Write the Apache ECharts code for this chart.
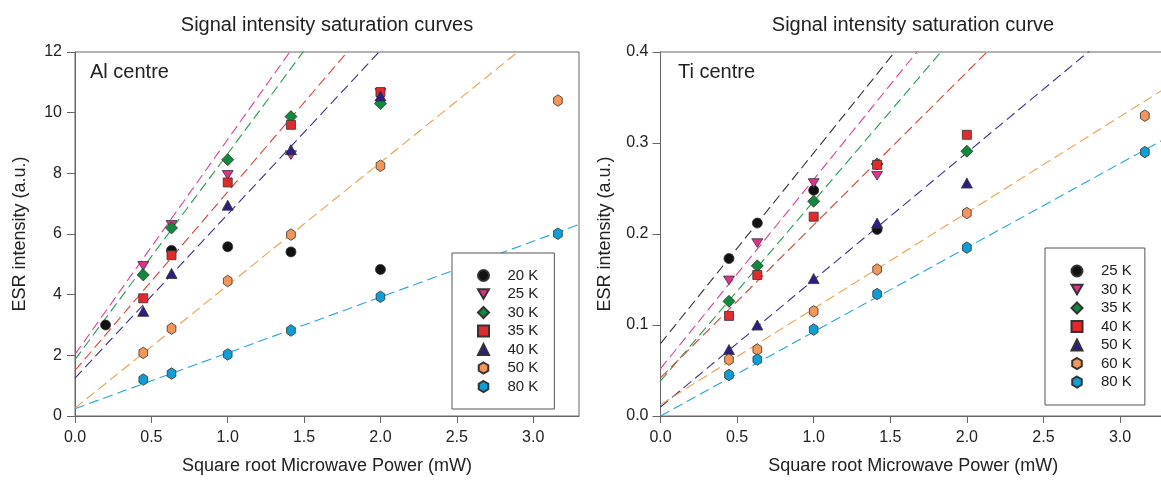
<!DOCTYPE html>
<html>
<head>
<meta charset="utf-8">
<script src="https://cdn.jsdelivr.net/npm/echarts@6/dist/echarts.min.js"></script>
<style>
html,body{margin:0;padding:0;background:#fff;}
#chart{width:1161px;height:483px;}
</style>
</head>
<body>
<div id="chart"></div>
<script>
// ---------- data ----------
const alNames = ['20 K','25 K','30 K','35 K','40 K','50 K','80 K'];
const tiNames = ['25 K','30 K','35 K','40 K','50 K','60 K','80 K'];

const al20 = [[0.2,3.0],[0.632,5.46],[1.0,5.58],[1.414,5.41],[2.0,4.83]];
const al25 = [[0.447,4.95],[0.632,6.3],[1.0,7.95],[1.414,8.6],[2.0,10.65]];
const al30 = [[0.447,4.65],[0.632,6.2],[1.0,8.45],[1.414,9.87],[2.0,10.3]];
const al35 = [[0.447,3.88],[0.632,5.3],[1.0,7.7],[1.414,9.6],[2.0,10.68]];
const al40 = [[0.447,3.45],[0.632,4.7],[1.0,6.95],[1.414,8.78],[2.0,10.55]];
const al50 = [[0.447,2.08],[0.632,2.88],[1.0,4.45],[1.414,5.98],[2.0,8.25],[3.162,10.4]];
const al80 = [[0.447,1.2],[0.632,1.4],[1.0,2.03],[1.414,2.82],[2.0,3.93],[3.162,6.01]];

const ti25 = [[0.447,0.173],[0.632,0.212],[1.0,0.248],[1.414,0.205]];
const ti30 = [[0.447,0.149],[0.632,0.19],[1.0,0.256],[1.414,0.264]];
const ti35 = [[0.447,0.126],[0.632,0.165],[1.0,0.236],[1.414,0.277],[2.0,0.291]];
const ti40 = [[0.447,0.11],[0.632,0.155],[1.0,0.219],[1.414,0.276],[2.0,0.309]];
const ti50 = [[0.447,0.073],[0.632,0.1],[1.0,0.151],[1.414,0.212],[2.0,0.256]];
const ti60 = [[0.447,0.062],[0.632,0.073],[1.0,0.115],[1.414,0.161],[2.0,0.223],[3.162,0.33]];
const ti80 = [[0.447,0.045],[0.632,0.062],[1.0,0.095],[1.414,0.134],[2.0,0.185],[3.162,0.29]];

// linear fits: [intercept, slope]; null = no fit line
const alFits = [null,[2.03,7.09],[1.86,6.79],[1.5,5.89],[1.25,5.40],[0.26,4.05],[0.24,1.84]];
const tiFits = [[0.0795,0.2096],[0.052,0.208],[0.0385,0.1975],[0.042,0.168],[0.0099,0.1397],[0.0125,0.1055],[0.0,0.0925]];

const xTicks = [0,0.5,1.0,1.5,2.0,2.5,3.0];
const xMax = 3.3;

// ---------- styles ----------
const HEX = 'path://M0,-10 L8.66,-5 L8.66,5 L0,10 L-8.66,5 L-8.66,-5 Z';
const DTRI = 'path://M-10,-8.66 L10,-8.66 L0,8.66 Z';
const markers = [
  {symbol:'circle', size:10, color:'#111111'},
  {symbol:DTRI, size:[11,10], color:'#e2308d'},
  {symbol:'diamond', size:[12,12], color:'#0d8b3d'},
  {symbol:'rect', size:[9,9], color:'#e8272b'},
  {symbol:'triangle', size:[11,10], color:'#2e1d86'},
  {symbol:HEX, size:[10,11.5], color:'#f59658'},
  {symbol:HEX, size:[10,11.5], color:'#0a9fd8'}
];
const alLineColors = [null,'#e0409c','#24a050','#e4403a','#3d2f8d','#f2a04c','#22a8d4'];
const tiLineColors = ['#333333','#e0409c','#24a050','#e4403a','#3d2f8d','#f2a04c','#22a8d4'];

const FONT = '"Liberation Sans", Arial, Helvetica, sans-serif';
const AXC = '#666666';
const TXT = '#222222';

const alData = [al20,al25,al30,al35,al40,al50,al80];
const tiData = [ti25,ti30,ti35,ti40,ti50,ti60,ti80];

const series = [];
function addFits(fits, colors, idx) {
  fits.forEach((f,i) => {
    if (!f) return;
    series.push({
      type:'line', name:'fit'+idx+'_'+i, xAxisIndex:idx, yAxisIndex:idx,
      data:[[0,f[0]],[xMax,f[0]+f[1]*xMax]],
      showSymbol:false, symbol:'none', silent:true, clip:true, z:1,
      lineStyle:{color:colors[i], width:1.1, type:[10,5]}
    });
  });
}
function addPoints(names, data, prefix, idx) {
  names.forEach((n,i) => {
    series.push({
      type:'scatter', name:prefix+n, xAxisIndex:idx, yAxisIndex:idx,
      data:data[i], symbol:markers[i].symbol, symbolSize:markers[i].size,
      symbolKeepAspect:true, z:3,
      itemStyle:{color:markers[i].color, borderColor:'#333333', borderWidth:0.8, opacity:1}
    });
  });
}
addFits(alFits, alLineColors, 0);
addFits(tiFits, tiLineColors, 1);
addPoints(alNames, alData, 'Al ', 0);
addPoints(tiNames, tiData, 'Ti ', 1);

function xAxis(gi) {
  return {
    type:'value', gridIndex:gi, min:0, max:xMax, interval:0.5,
    name:'Square root Microwave Power (mW)', nameLocation:'middle', nameGap:41,
    nameTextStyle:{fontSize:18, color:TXT, fontFamily:FONT},
    axisLine:{show:true, lineStyle:{color:AXC, width:1}},
    axisTick:{show:true, inside:false, length:7, lineStyle:{color:AXC}, customValues:xTicks},
    splitLine:{show:false},
    axisLabel:{fontSize:16, color:TXT, fontFamily:FONT, margin:14, customValues:xTicks,
      formatter: v => xTicks.some(t => Math.abs(t-v)<1e-6) ? v.toFixed(1) : ''}
  };
}
function yAxis(gi, max, interval, dec, gap, margin) {
  return {
    type:'value', gridIndex:gi, min:0, max:max, interval:interval,
    name:'ESR intensity (a.u.)', nameLocation:'middle', nameGap:gap, nameRotate:90,
    nameTextStyle:{fontSize:18, color:TXT, fontFamily:FONT},
    axisLine:{show:true, lineStyle:{color:AXC, width:1}},
    axisTick:{show:true, inside:false, length:8, lineStyle:{color:AXC}},
    splitLine:{show:false},
    axisLabel:{fontSize:16, color:TXT, fontFamily:FONT, margin:margin,
      formatter: v => v.toFixed(dec)}
  };
}
function legend(prefix, names, left, top, padding) {
  return {
    show:true, orient:'vertical', left:left, top:top,
    data:names.map(n => prefix+n),
    formatter: name => name.slice(3),
    itemWidth:11, itemHeight:11, itemGap:3.5,
    padding:padding, borderColor:'#555555', borderWidth:1, backgroundColor:'#ffffff',
    selectedMode:false,
    textStyle:{fontSize:15, color:TXT, fontFamily:FONT, padding:[0,0,0,13.5]}
  };
}

const chart = echarts.init(document.getElementById('chart'), null, {renderer:'canvas'});
chart.setOption({
  animation:false,
  backgroundColor:'#ffffff',
  grid:[
    {left:75, top:52, width:504, height:364, show:true, borderColor:AXC, borderWidth:1, backgroundColor:'transparent', containLabel:false, outerBoundsMode:'none'},
    {left:660.5, top:52, width:505.5, height:364, show:true, borderColor:AXC, borderWidth:1, backgroundColor:'transparent', containLabel:false, outerBoundsMode:'none'}
  ],
  xAxis:[xAxis(0), xAxis(1)],
  yAxis:[yAxis(0,12,2,0,46,13), yAxis(1,0.4,0.1,1,46,12)],
  legend:[
    legend('Al ', alNames, 452, 253, [15,16,15,25]),
    legend('Ti ', tiNames, 1045, 248, [15.5,13,15.5,25.5])
  ],
  graphic:[
    {type:'text', x:327, y:25, style:{text:'Signal intensity saturation curves', font:'20px '+FONT, fill:TXT, align:'center', verticalAlign:'middle'}},
    {type:'text', x:913, y:25, style:{text:'Signal intensity saturation curve', font:'20px '+FONT, fill:TXT, align:'center', verticalAlign:'middle'}},
    {type:'text', x:90, y:72, style:{text:'Al centre', font:'20px '+FONT, fill:TXT, align:'left', verticalAlign:'middle'}},
    {type:'text', x:678, y:72, style:{text:'Ti centre', font:'20px '+FONT, fill:TXT, align:'left', verticalAlign:'middle'}}
  ],
  series:series
});
</script>
</body>
</html>
